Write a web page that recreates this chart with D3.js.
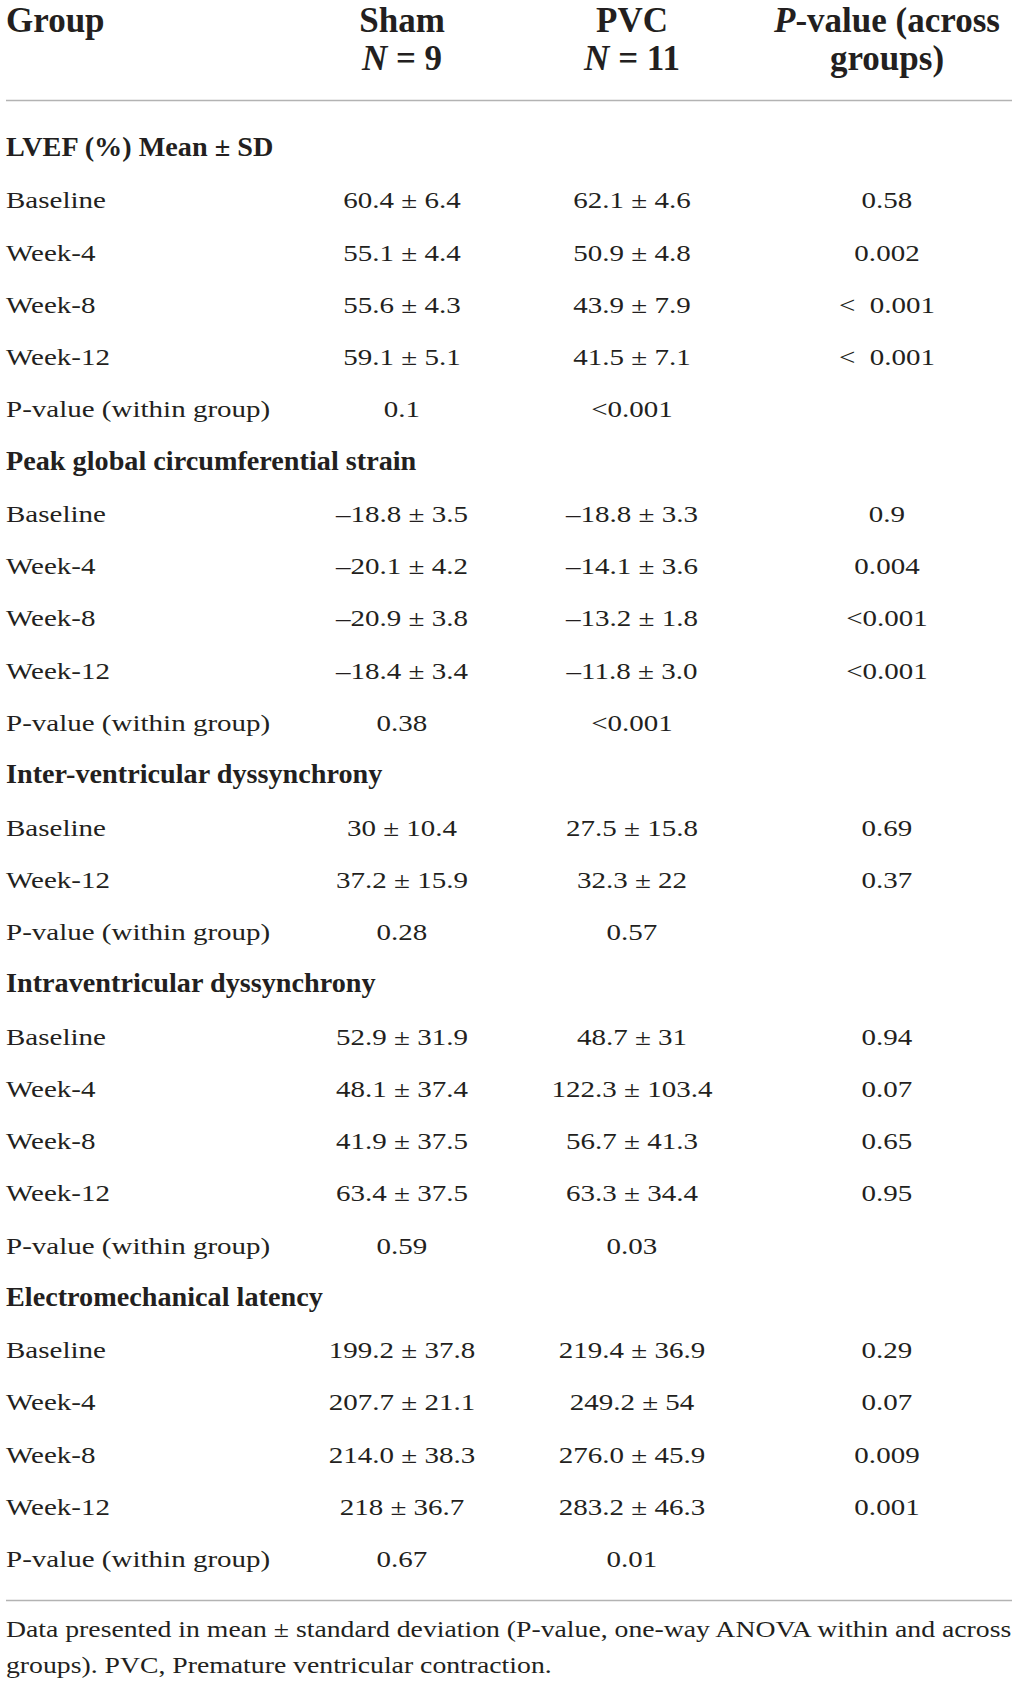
<!DOCTYPE html>
<html>
<head>
<meta charset="utf-8">
<script src="https://cdn.jsdelivr.net/npm/d3@7"></script>
<style>
html,body{margin:0;padding:0;background:#fff;}
svg{display:block;}
</style>
</head>
<body>
<div id="chart"></div>
<script>
// ---- data ----
const columnHeaders = [
  ["Group"],
  ["Sham", "N = 9"],
  ["PVC", "N = 11"],
  ["P-value (across", "groups)"]
];
const sectionTitles = [
  "LVEF (%) Mean \u00b1 SD",
  "Peak global circumferential strain",
  "Inter-ventricular dyssynchrony",
  "Intraventricular dyssynchrony",
  "Electromechanical latency"
];
const rowLabels = [
  ["Baseline", "Week-4", "Week-8", "Week-12", "P-value (within group)"],
  ["Baseline", "Week-4", "Week-8", "Week-12", "P-value (within group)"],
  ["Baseline", "Week-12", "P-value (within group)"],
  ["Baseline", "Week-4", "Week-8", "Week-12", "P-value (within group)"],
  ["Baseline", "Week-4", "Week-8", "Week-12", "P-value (within group)"]
];
const shamValues = [
  ["60.4 \u00b1 6.4", "55.1 \u00b1 4.4", "55.6 \u00b1 4.3", "59.1 \u00b1 5.1", "0.1"],
  ["\u201318.8 \u00b1 3.5", "\u201320.1 \u00b1 4.2", "\u201320.9 \u00b1 3.8", "\u201318.4 \u00b1 3.4", "0.38"],
  ["30 \u00b1 10.4", "37.2 \u00b1 15.9", "0.28"],
  ["52.9 \u00b1 31.9", "48.1 \u00b1 37.4", "41.9 \u00b1 37.5", "63.4 \u00b1 37.5", "0.59"],
  ["199.2 \u00b1 37.8", "207.7 \u00b1 21.1", "214.0 \u00b1 38.3", "218 \u00b1 36.7", "0.67"]
];
const pvcValues = [
  ["62.1 \u00b1 4.6", "50.9 \u00b1 4.8", "43.9 \u00b1 7.9", "41.5 \u00b1 7.1", "<0.001"],
  ["\u201318.8 \u00b1 3.3", "\u201314.1 \u00b1 3.6", "\u201313.2 \u00b1 1.8", "\u201311.8 \u00b1 3.0", "<0.001"],
  ["27.5 \u00b1 15.8", "32.3 \u00b1 22", "0.57"],
  ["48.7 \u00b1 31", "122.3 \u00b1 103.4", "56.7 \u00b1 41.3", "63.3 \u00b1 34.4", "0.03"],
  ["219.4 \u00b1 36.9", "249.2 \u00b1 54", "276.0 \u00b1 45.9", "283.2 \u00b1 46.3", "0.01"]
];
const pAcross = [
  ["0.58", "0.002", "<\u00a0\u00a00.001", "<\u00a0\u00a00.001", ""],
  ["0.9", "0.004", "<0.001", "<0.001", ""],
  ["0.69", "0.37", ""],
  ["0.94", "0.07", "0.65", "0.95", ""],
  ["0.29", "0.07", "0.009", "0.001", ""]
];
const footnoteLines = [
  "Data presented in mean \u00b1 standard deviation (P-value, one-way ANOVA within and across",
  "groups). PVC, Premature ventricular contraction."
];

// ---- build flat rows ----
const rows = [];
sectionTitles.forEach((t, s) => {
  rows.push({type: "section", label: t});
  rowLabels[s].forEach((l, i) => {
    rows.push({type: "row", label: l, sham: shamValues[s][i], pvc: pvcValues[s][i], p: pAcross[s][i]});
  });
});

const W = 1017, H = 1691;
const svg = d3.select("#chart").append("svg").attr("width", W).attr("height", H);
const ink = "#231f20";
const ruleColor = "#b3b3b3";
const serif = "'Liberation Serif','Times New Roman',serif";
const bodySize = 23.5, bodyScale = 1.235;

const y = d3.scalePoint().domain(d3.range(rows.length)).range([156, 156 + 52.27 * (rows.length - 1)]);
const colX = d3.scaleOrdinal().domain(["label", "sham", "pvc", "p"]).range([6, 402, 632, 887]);

function bodyText(g, str, x, yy, anchor, weight, size, sx) {
  return g.append("text")
    .attr("transform", `translate(${x},${yy}) scale(${sx},1)`)
    .attr("text-anchor", anchor)
    .attr("font-family", serif)
    .attr("font-size", size)
    .attr("font-weight", weight)
    .attr("fill", ink)
    .text(str);
}

// header
const head = svg.append("g");
const hx = [colX("label"), colX("sham"), colX("pvc"), colX("p")];
const hy = [32, 70];
columnHeaders.forEach((lines, c) => {
  lines.forEach((ln, li) => {
    const t = head.append("text")
      .attr("x", hx[c]).attr("y", hy[li])
      .attr("text-anchor", c === 0 ? "start" : "middle")
      .attr("font-family", serif).attr("font-size", 35).attr("font-weight", "bold")
      .attr("fill", ink);
    if (ln.startsWith("N =") || ln.startsWith("P-")) {
      t.append("tspan").attr("font-style", "italic").text(ln[0]);
      t.append("tspan").text(ln.slice(1));
    } else {
      t.text(ln);
    }
  });
});

// rules
svg.append("line").attr("x1", 6).attr("x2", 1012).attr("y1", 100.5).attr("y2", 100.5)
  .attr("stroke", ruleColor).attr("stroke-width", 1.6);
svg.append("line").attr("x1", 6).attr("x2", 1012).attr("y1", 1600.5).attr("y2", 1600.5)
  .attr("stroke", ruleColor).attr("stroke-width", 1.6);

// body rows
const body = svg.append("g");
rows.forEach((r, i) => {
  const yy = y(i);
  if (r.type === "section") {
    bodyText(body, r.label, colX("label"), yy, "start", "bold", 27, 1.045);
  } else {
    bodyText(body, r.label, colX("label"), yy, "start", "normal", bodySize, bodyScale);
    bodyText(body, r.sham, colX("sham"), yy, "middle", "normal", bodySize, bodyScale);
    bodyText(body, r.pvc, colX("pvc"), yy, "middle", "normal", bodySize, bodyScale);
    if (r.p) bodyText(body, r.p, colX("p"), yy, "middle", "normal", bodySize, bodyScale);
  }
});

// footnote
const foot = svg.append("g");
const fy = d3.scaleLinear().domain([0, 1]).range([1637, 1673]);
footnoteLines.forEach((ln, i) => {
  bodyText(foot, ln, 6, fy(i), "start", "normal", bodySize, 1.18);
});
</script>
</body>
</html>
